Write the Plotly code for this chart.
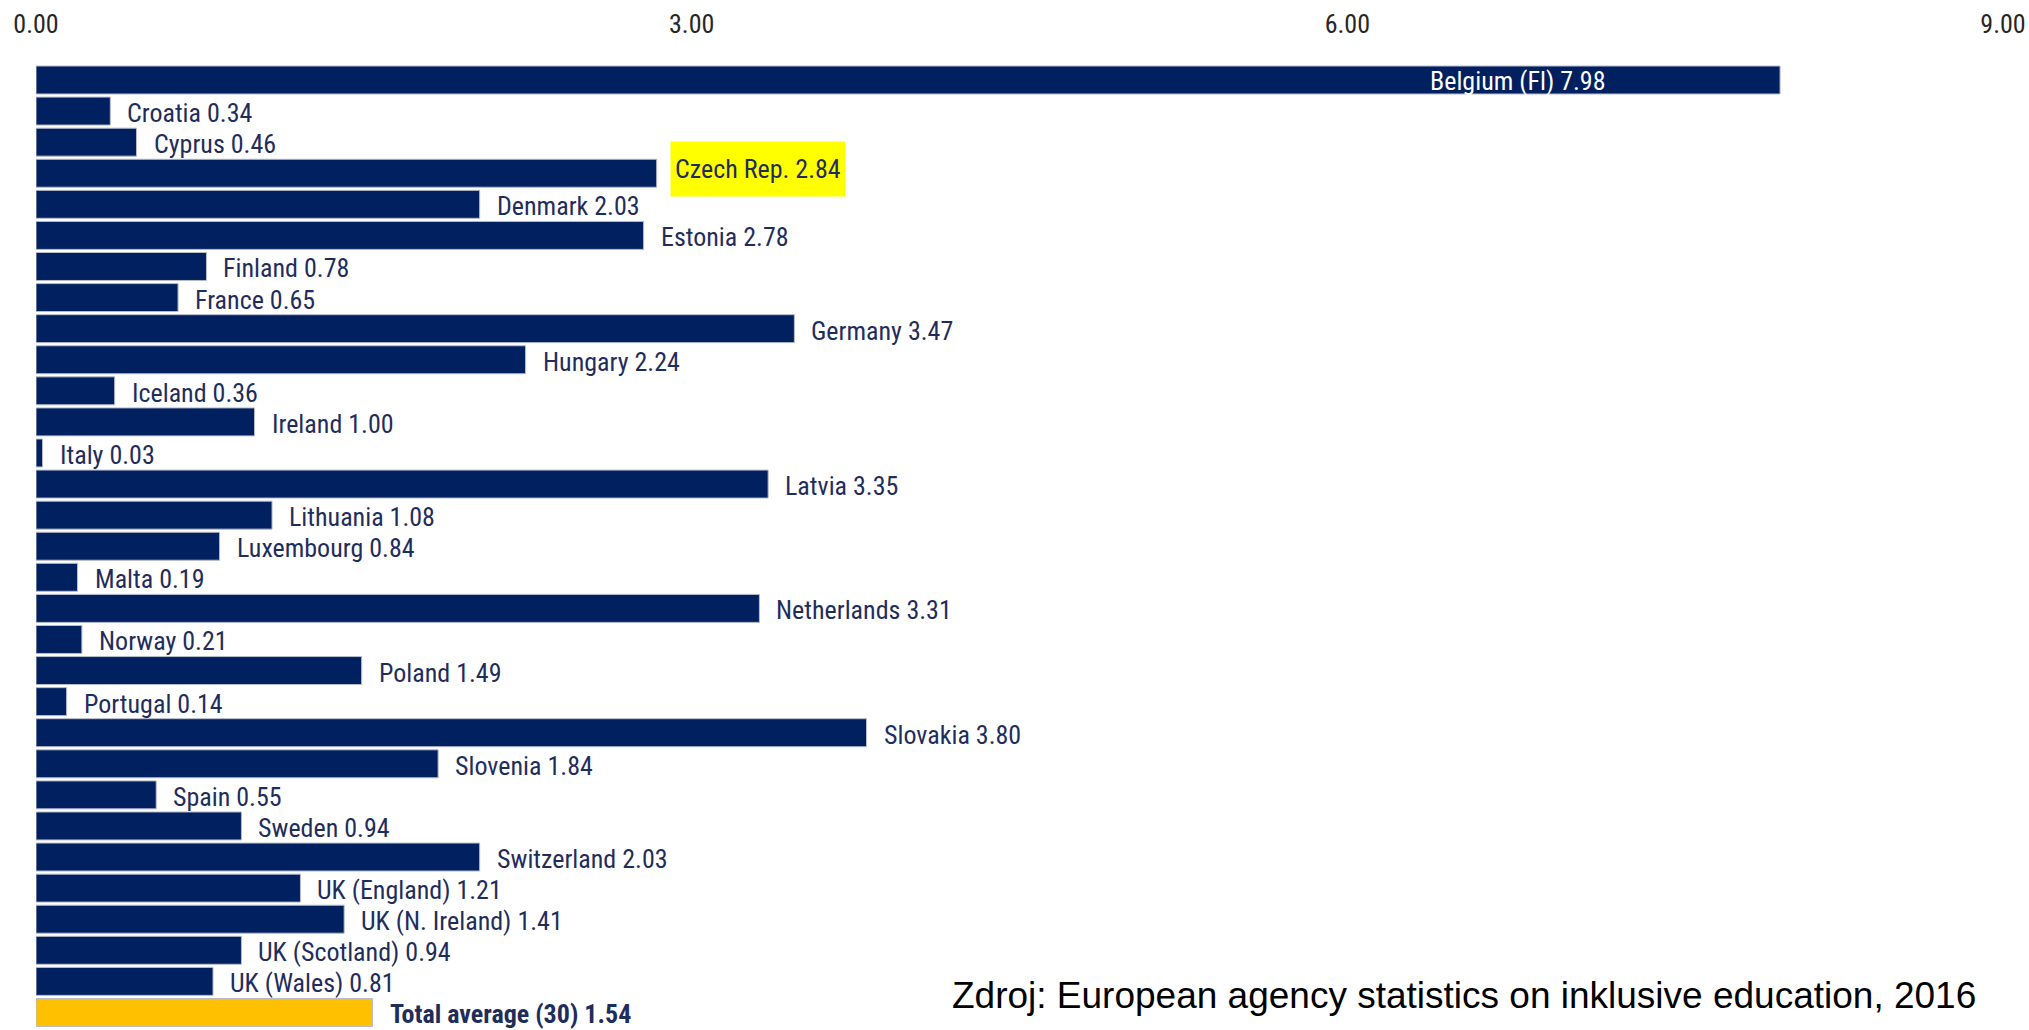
import plotly.graph_objects as go

countries = ["Belgium (Fl)", "Croatia", "Cyprus", "Czech Rep.", "Denmark", "Estonia",
             "Finland", "France", "Germany", "Hungary", "Iceland", "Ireland", "Italy",
             "Latvia", "Lithuania", "Luxembourg", "Malta", "Netherlands", "Norway",
             "Poland", "Portugal", "Slovakia", "Slovenia", "Spain", "Sweden",
             "Switzerland", "UK (England)", "UK (N. Ireland)", "UK (Scotland)",
             "UK (Wales)", "Total average (30)"]
values = [7.98, 0.34, 0.46, 2.84, 2.03, 2.78, 0.78, 0.65, 3.47, 2.24, 0.36, 1.00, 0.03,
          3.35, 1.08, 0.84, 0.19, 3.31, 0.21, 1.49, 0.14, 3.80, 1.84, 0.55, 0.94,
          2.03, 1.21, 1.41, 0.94, 0.81, 1.54]
tick_vals = [0, 3, 6, 9]
source_text = "Zdroj: European agency statistics on inklusive education, 2016"

NAVY = "#002060"
GOLD = "#FFC000"
TEXT = "#1F2D5C"
FONT = "Liberation Sans Narrow, Roboto Condensed, DejaVu Sans Condensed, sans-serif"

colors = [GOLD if c.startswith("Total") else NAVY for c in countries]

fig = go.Figure(go.Bar(
    x=values, y=countries, orientation="h",
    marker=dict(color=colors, line=dict(color="#B8BCCB", width=1)),
    hoverinfo="x+y",
))

annotations = []
for c, v in zip(countries, values):
    label = f"{c} {v:.2f}"
    if c.startswith("Belgium"):
        annotations.append(dict(x=v, y=c, xref="x", yref="y", text=label, showarrow=False,
                                xanchor="right", xshift=-172, yshift=-1,
                                font=dict(family=FONT, size=26, color="white")))
    elif c.startswith("Czech"):
        annotations.append(dict(x=v, y=c, xref="x", yref="y", text=label, showarrow=False,
                                xanchor="left", xshift=13, yshift=4,
                                bgcolor="#FFFF00", height=46, borderpad=4,
                                font=dict(family=FONT, size=26, color=TEXT)))
    elif c.startswith("Total"):
        annotations.append(dict(x=v, y=c, xref="x", yref="y", text=f"<b>{label}</b>",
                                showarrow=False, xanchor="left", xshift=15, yshift=-2,
                                font=dict(family=FONT, size=26, color=TEXT)))
    else:
        annotations.append(dict(x=v, y=c, xref="x", yref="y", text=label, showarrow=False,
                                xanchor="left", xshift=15, yshift=-2,
                                font=dict(family=FONT, size=26, color=TEXT)))

annotations.append(dict(x=0.9875, y=0.034, xref="paper", yref="paper", text=source_text,
                        showarrow=False, xanchor="right", yanchor="middle",
                        font=dict(family="Liberation Sans, Arial, sans-serif", size=37,
                                  color="black")))

fig.update_layout(
    width=2029, height=1030,
    margin=dict(l=36, r=26, t=62, b=2),
    paper_bgcolor="white", plot_bgcolor="white",
    bargap=0.1,
    showlegend=False,
    annotations=annotations,
    xaxis=dict(side="top", range=[0, 9], tickvals=tick_vals, tickformat=".2f",
               showgrid=False, zeroline=False, showline=False,
               ticks="outside", ticklen=18, tickcolor="rgba(0,0,0,0)",
               tickfont=dict(family=FONT, size=26, color="#262626")),
    yaxis=dict(autorange="reversed", showticklabels=False, showgrid=False,
               zeroline=False, showline=False, ticks=""),
)

fig.write_html("out.html", config={"displayModeBar": False},
               post_script="document.body.style.margin='0';document.body.style.overflow='hidden';")
